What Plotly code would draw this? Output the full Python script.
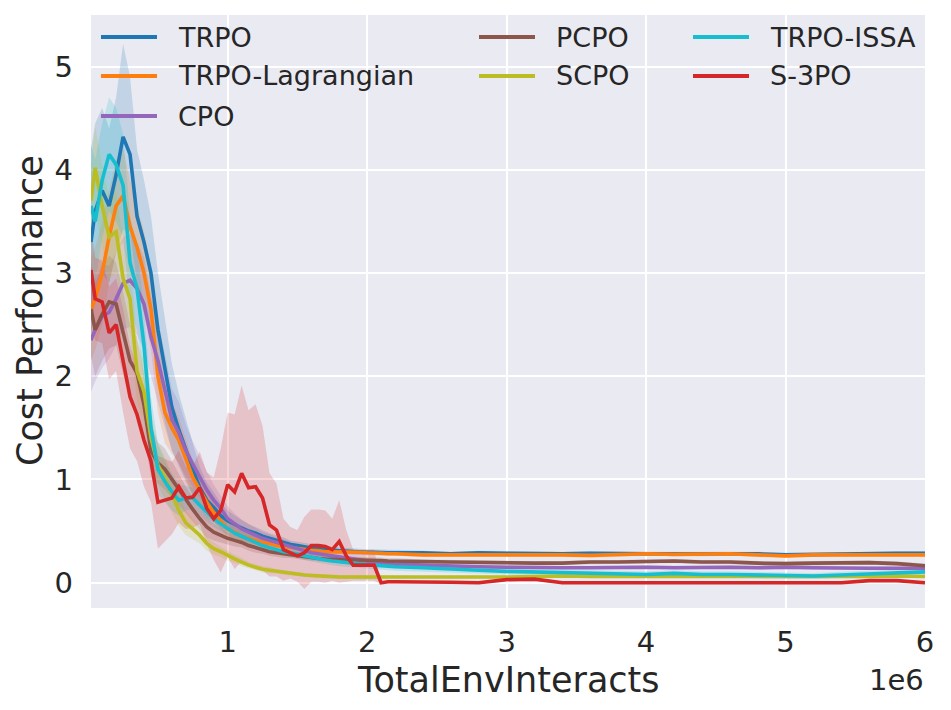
import plotly.graph_objects as go

# Timesteps (in millions of env interactions)
steps_m = [0.02, 0.05, 0.10, 0.15, 0.20, 0.25, 0.30, 0.35, 0.40, 0.45,
           0.50, 0.55, 0.60, 0.65, 0.70, 0.75, 0.80, 0.85, 0.90, 0.95,
           1.00, 1.05, 1.10, 1.15, 1.20, 1.25, 1.30, 1.35, 1.40, 1.45,
           1.50, 1.55, 1.60, 1.65, 1.70, 1.75, 1.80, 1.85, 1.90, 1.95,
           2.00, 2.05, 2.10, 2.15, 2.20,
           2.4, 2.6, 2.8, 3.0, 3.2, 3.4, 3.6, 3.8, 4.0, 4.2,
           4.4, 4.6, 4.8, 5.0, 5.2, 5.4, 5.6, 5.8, 6.0]

# mean cost per algorithm
trpo = [3.30, 3.60, 3.80, 3.65, 3.95, 4.32, 4.15, 3.55, 3.30, 3.00,
        2.45, 2.05, 1.70, 1.48, 1.28, 1.10, 0.92, 0.80, 0.73, 0.65,
        0.60, 0.56, 0.53, 0.50, 0.48, 0.45, 0.43, 0.41, 0.39, 0.37,
        0.36, 0.345, 0.335, 0.33, 0.32, 0.315, 0.31, 0.305, 0.30, 0.30,
        0.295, 0.295, 0.29, 0.29, 0.29,
        0.29, 0.28, 0.29, 0.285, 0.28, 0.28, 0.285, 0.28, 0.28, 0.28,
        0.28, 0.285, 0.28, 0.27, 0.275, 0.28, 0.28, 0.285, 0.285]
trpo_lag = [2.65, 2.75, 3.00, 3.35, 3.65, 3.75, 3.45, 3.25, 3.00, 2.65,
            2.00, 1.65, 1.50, 1.38, 1.20, 1.02, 0.90, 0.78, 0.68, 0.60,
            0.52, 0.49, 0.45, 0.43, 0.41, 0.39, 0.38, 0.36, 0.35, 0.34,
            0.33, 0.32, 0.315, 0.31, 0.30, 0.30, 0.30, 0.30, 0.30, 0.295,
            0.29, 0.29, 0.285, 0.28, 0.28,
            0.27, 0.27, 0.27, 0.275, 0.27, 0.27, 0.265, 0.27, 0.28, 0.275,
            0.275, 0.28, 0.27, 0.26, 0.27, 0.27, 0.275, 0.27, 0.27]
cpo = [2.35, 2.45, 2.58, 2.62, 2.75, 2.90, 2.93, 2.85, 2.70, 2.38,
       2.15, 1.85, 1.58, 1.45, 1.28, 1.15, 1.02, 0.90, 0.80, 0.72,
       0.62, 0.57, 0.52, 0.49, 0.46, 0.43, 0.41, 0.39, 0.37, 0.35,
       0.33, 0.31, 0.29, 0.28, 0.27, 0.26, 0.245, 0.235, 0.225, 0.215,
       0.205, 0.20, 0.19, 0.185, 0.18,
       0.17, 0.16, 0.155, 0.15, 0.145, 0.145, 0.145, 0.15, 0.15, 0.145,
       0.15, 0.15, 0.145, 0.15, 0.145, 0.14, 0.14, 0.14, 0.14]
pcpo = [2.65, 2.45, 2.60, 2.72, 2.70, 2.42, 2.15, 2.03, 1.72, 1.28,
        1.16, 1.10, 1.00, 0.90, 0.80, 0.71, 0.62, 0.54, 0.49, 0.46,
        0.43, 0.41, 0.39, 0.36, 0.34, 0.32, 0.30, 0.29, 0.28, 0.27,
        0.26, 0.25, 0.24, 0.235, 0.23, 0.225, 0.22, 0.22, 0.22, 0.22,
        0.22, 0.215, 0.215, 0.21, 0.21,
        0.205, 0.20, 0.195, 0.19, 0.19, 0.19, 0.20, 0.20, 0.205, 0.21,
        0.20, 0.20, 0.19, 0.185, 0.19, 0.19, 0.195, 0.185, 0.165]
scpo = [3.70, 4.02, 3.65, 3.35, 3.40, 2.95, 2.75, 2.05, 1.85, 1.40,
        1.14, 1.02, 0.86, 0.70, 0.58, 0.52, 0.46, 0.38, 0.33, 0.30,
        0.26, 0.23, 0.20, 0.17, 0.15, 0.13, 0.12, 0.11, 0.10, 0.09,
        0.08, 0.075, 0.07, 0.065, 0.06, 0.06, 0.055, 0.055, 0.055, 0.05,
        0.05, 0.05, 0.05, 0.05, 0.05,
        0.05, 0.05, 0.05, 0.055, 0.06, 0.065, 0.06, 0.06, 0.055, 0.06,
        0.06, 0.06, 0.06, 0.055, 0.055, 0.06, 0.06, 0.065, 0.06]
trpo_issa = [3.65, 3.50, 3.90, 4.15, 4.05, 3.85, 3.10, 2.85, 2.30, 1.50,
             1.10, 0.98, 0.88, 0.80, 0.82, 0.82, 0.75, 0.68, 0.62, 0.57,
             0.52, 0.48, 0.45, 0.42, 0.39, 0.36, 0.34, 0.32, 0.30, 0.29,
             0.28, 0.26, 0.245, 0.23, 0.22, 0.21, 0.20, 0.195, 0.19, 0.18,
             0.175, 0.17, 0.165, 0.16, 0.155,
             0.145, 0.13, 0.12, 0.11, 0.105, 0.10, 0.09, 0.085, 0.08, 0.09,
             0.08, 0.08, 0.075, 0.065, 0.065, 0.075, 0.085, 0.09, 0.105]
s3po = [3.03, 2.75, 2.72, 2.42, 2.50, 2.15, 1.80, 1.63, 1.38, 1.18,
        0.78, 0.80, 0.82, 0.93, 0.82, 0.83, 0.92, 0.72, 0.62, 0.70,
        0.95, 0.88, 1.06, 0.92, 0.93, 0.82, 0.56, 0.51, 0.32, 0.29,
        0.26, 0.29, 0.36, 0.36, 0.35, 0.32, 0.40, 0.26, 0.17, 0.17,
        0.17, 0.17, 0.00, 0.01, 0.01,
        0.01, 0.005, 0.0, 0.03, 0.035, 0.0, 0.0, 0.0, 0.0, 0.0,
        0.0, 0.0, 0.0, 0.0, 0.0, 0.0, 0.02, 0.02, 0.0]

# half-width of the shaded band
trpo_sd = [0.90, 0.85, 0.80, 0.75, 0.75, 0.90, 0.75, 0.65, 0.60, 0.55,
           0.55, 0.50, 0.42, 0.35, 0.30, 0.25, 0.20, 0.17, 0.15, 0.12,
           0.10, 0.09, 0.08, 0.07, 0.06, 0.06, 0.05, 0.05, 0.05, 0.04,
           0.04, 0.04, 0.04, 0.03, 0.03, 0.03, 0.03, 0.03, 0.03, 0.03,
           0.03, 0.03, 0.03, 0.03, 0.03,
           0.02, 0.02, 0.02, 0.02, 0.02, 0.02, 0.02, 0.02, 0.02, 0.02,
           0.02, 0.02, 0.02, 0.02, 0.02, 0.02, 0.02, 0.02, 0.02]
trpo_lag_sd = [0.50, 0.50, 0.50, 0.45, 0.45, 0.45, 0.45, 0.40, 0.40, 0.40,
               0.35, 0.30, 0.25, 0.22, 0.20, 0.17, 0.15, 0.12, 0.10, 0.08,
               0.07, 0.06, 0.05, 0.05, 0.04, 0.04, 0.04, 0.03, 0.03, 0.03,
               0.03, 0.03, 0.02, 0.02, 0.02, 0.02, 0.02, 0.02, 0.02, 0.02,
               0.02, 0.02, 0.02, 0.02, 0.02,
               0.02, 0.02, 0.02, 0.02, 0.02, 0.02, 0.02, 0.02, 0.02, 0.02,
               0.02, 0.02, 0.02, 0.02, 0.02, 0.02, 0.02, 0.02, 0.02]
cpo_sd = [0.50, 0.50, 0.50, 0.45, 0.45, 0.45, 0.45, 0.45, 0.45, 0.40,
          0.40, 0.35, 0.30, 0.30, 0.25, 0.22, 0.20, 0.18, 0.15, 0.13,
          0.12, 0.10, 0.09, 0.08, 0.07, 0.06, 0.06, 0.05, 0.05, 0.05,
          0.04, 0.04, 0.04, 0.04, 0.03, 0.03, 0.03, 0.03, 0.03, 0.03,
          0.03, 0.03, 0.02, 0.02, 0.02,
          0.02, 0.02, 0.02, 0.02, 0.02, 0.02, 0.02, 0.02, 0.02, 0.02,
          0.02, 0.02, 0.02, 0.02, 0.02, 0.02, 0.02, 0.02, 0.02]
pcpo_sd = [0.45, 0.45, 0.45, 0.45, 0.40, 0.40, 0.35, 0.35, 0.30, 0.25,
           0.20, 0.20, 0.18, 0.15, 0.13, 0.12, 0.10, 0.10, 0.08, 0.07,
           0.06, 0.06, 0.05, 0.05, 0.05, 0.04, 0.04, 0.04, 0.04, 0.03,
           0.03, 0.03, 0.03, 0.03, 0.03, 0.03, 0.03, 0.03, 0.03, 0.03,
           0.03, 0.03, 0.03, 0.03, 0.03,
           0.02, 0.02, 0.02, 0.02, 0.02, 0.02, 0.02, 0.02, 0.02, 0.02,
           0.02, 0.02, 0.02, 0.02, 0.02, 0.02, 0.02, 0.02, 0.02]
scpo_sd = [0.35, 0.40, 0.40, 0.40, 0.40, 0.35, 0.35, 0.30, 0.30, 0.25,
           0.20, 0.20, 0.18, 0.15, 0.12, 0.10, 0.08, 0.07, 0.06, 0.05,
           0.05, 0.04, 0.04, 0.03, 0.03, 0.03, 0.03, 0.02, 0.02, 0.02,
           0.02, 0.02, 0.02, 0.02, 0.02, 0.02, 0.02, 0.02, 0.02, 0.02,
           0.02, 0.02, 0.02, 0.02, 0.02,
           0.015, 0.015, 0.015, 0.015, 0.015, 0.015, 0.015, 0.015, 0.015, 0.015,
           0.015, 0.015, 0.015, 0.015, 0.015, 0.015, 0.015, 0.015, 0.015]
trpo_issa_sd = [0.60, 0.60, 0.55, 0.55, 0.55, 0.50, 0.45, 0.40, 0.35, 0.30,
                0.25, 0.20, 0.18, 0.15, 0.12, 0.10, 0.10, 0.09, 0.08, 0.07,
                0.06, 0.06, 0.05, 0.05, 0.05, 0.05, 0.04, 0.04, 0.04, 0.04,
                0.04, 0.04, 0.04, 0.04, 0.04, 0.04, 0.04, 0.04, 0.04, 0.04,
                0.04, 0.04, 0.04, 0.04, 0.04,
                0.04, 0.035, 0.03, 0.03, 0.03, 0.03, 0.03, 0.03, 0.03, 0.03,
                0.03, 0.03, 0.03, 0.03, 0.03, 0.03, 0.03, 0.03, 0.03]
s3po_sd = [0.40, 0.40, 0.40, 0.45, 0.45, 0.50, 0.50, 0.45, 0.45, 0.40,
           0.45, 0.40, 0.35, 0.35, 0.30, 0.30, 0.35, 0.35, 0.40, 0.60,
           0.70, 0.75, 0.85, 0.75, 0.80, 0.70, 0.50, 0.45, 0.30, 0.25,
           0.25, 0.35, 0.35, 0.35, 0.35, 0.30, 0.40, 0.25, 0.15, 0.15,
           0.15, 0.15, 0.01, 0.01, 0.01,
           0.01, 0.01, 0.01, 0.01, 0.01, 0.01, 0.01, 0.01, 0.01, 0.01,
           0.01, 0.01, 0.01, 0.01, 0.01, 0.01, 0.01, 0.01, 0.01]

names = ["TRPO", "TRPO-Lagrangian", "CPO", "PCPO", "SCPO", "TRPO-ISSA", "S-3PO"]
means = [trpo, trpo_lag, cpo, pcpo, scpo, trpo_issa, s3po]
spreads = [trpo_sd, trpo_lag_sd, cpo_sd, pcpo_sd, scpo_sd, trpo_issa_sd, s3po_sd]
colors = ["#1f77b4", "#ff7f0e", "#9467bd", "#8c564b", "#bcbd22", "#17becf", "#d62728"]

x = [s * 1e6 for s in steps_m]


def rgba(hex_color, a):
    h = hex_color.lstrip("#")
    r, g, b = int(h[0:2], 16), int(h[2:4], 16), int(h[4:6], 16)
    return f"rgba({r},{g},{b},{a})"


fig = go.Figure()

# shaded bands first
for name, m, sd, c in zip(names, means, spreads, colors):
    upper = [v + s for v, s in zip(m, sd)]
    lower = [v - s for v, s in zip(m, sd)]
    fig.add_trace(go.Scatter(
        x=x + x[::-1], y=upper + lower[::-1],
        fill="toself", fillcolor=rgba(c, 0.2),
        line=dict(width=0), mode="lines",
        hoverinfo="skip", showlegend=False,
    ))

for name, m, c in zip(names, means, colors):
    fig.add_trace(go.Scatter(
        x=x, y=m, name=name, mode="lines",
        line=dict(color=c, width=3.6), showlegend=False,
    ))

# page body has an 8px margin, so the figure sits at (8, 8) in the window
OFF = 8
W, H = 951 - 2 * OFF, 710 - 2 * OFF
ml, mt = 91 - OFF, 15 - OFF
pw, ph = 834, 593
mr = W - ml - pw
mb = H - mt - ph


def px_x(p):
    # window pixel -> paper x
    return (p - OFF - ml) / pw


def px_y(p):
    # window pixel -> paper y
    return (OFF + mt + ph - p) / ph


# hand-made legend (3 columns, column-major like matplotlib ncol=3)
col_x = [101, 479, 693]
row_y = [37, 76, 116]
slots = [(0, 0), (0, 1), (0, 2), (1, 0), (1, 1), (2, 0), (2, 1)]
shapes = []
annotations = []
for (ci, ri), name, c in zip(slots, names, colors):
    x0 = col_x[ci]
    yy = row_y[ri]
    shapes.append(dict(type="line", xref="paper", yref="paper",
                       x0=px_x(x0), x1=px_x(x0 + 56), y0=px_y(yy), y1=px_y(yy),
                       line=dict(color=c, width=3.8)))
    annotations.append(dict(text=name, xref="paper", yref="paper",
                            x=px_x(x0 + 75), y=px_y(yy), xanchor="left",
                            yanchor="middle", showarrow=False,
                            font=dict(size=27, color="#262626")))

annotations.append(dict(text="TotalEnvInteracts", xref="paper", yref="paper",
                        x=0.5, y=px_y(680), xanchor="center", yanchor="middle",
                        showarrow=False, font=dict(size=35, color="#262626")))
annotations.append(dict(text="Cost Performance", xref="paper", yref="paper",
                        x=px_x(30), y=px_y(311), xanchor="center", yanchor="middle",
                        textangle=-90, showarrow=False,
                        font=dict(size=35, color="#262626")))
annotations.append(dict(text="1e6", xref="paper", yref="paper",
                        x=px_x(926), y=px_y(680), xanchor="right", yanchor="middle",
                        showarrow=False, font=dict(size=29, color="#262626")))

fig.update_layout(
    width=W, height=H,
    margin=dict(l=ml, r=mr, t=mt, b=mb),
    paper_bgcolor="white",
    plot_bgcolor="#EAEAF2",
    font=dict(family="DejaVu Sans", color="#262626"),
    shapes=shapes,
    annotations=annotations,
    showlegend=False,
)
fig.update_xaxes(
    range=[0.02e6, 6e6],
    tickvals=[1e6, 2e6, 3e6, 4e6, 5e6, 6e6],
    ticktext=["1", "2", "3", "4", "5", "6"],
    tickfont=dict(size=29, color="#262626"),
    ticklabelstandoff=14,
    showgrid=True, gridcolor="white", gridwidth=2.2,
    zeroline=False, showline=False, ticks="",
)
fig.update_yaxes(
    range=[-0.245, 5.5],
    tickvals=[0, 1, 2, 3, 4, 5],
    tickfont=dict(size=29, color="#262626"),
    ticklabelstandoff=17,
    showgrid=True, gridcolor="white", gridwidth=2.2,
    zeroline=False, showline=False, ticks="",
)

fig.write_html("out.html")
